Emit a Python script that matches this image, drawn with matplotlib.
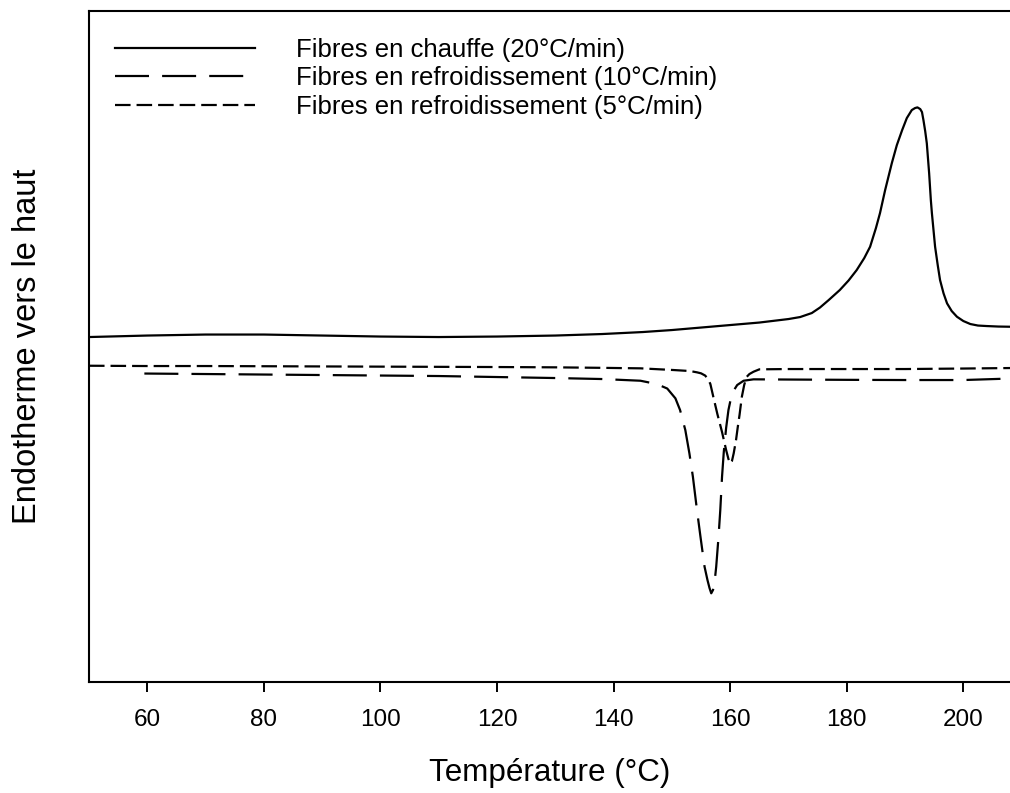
import matplotlib
matplotlib.use("Agg")
import matplotlib.pyplot as plt

plt.rcParams['font.family'] = ['Liberation Sans', 'DejaVu Sans']

# DSC thermograms of the fibres (heat flow in arbitrary units, endotherm up)
temp_heat_20 = [50, 60, 70, 80, 90, 100, 110, 120, 130, 138, 145, 150, 155, 160,
                165, 170, 172, 174, 175.4, 176.9, 178.8, 180.3, 181.7, 183, 184.0,
                185, 185.7, 186.58, 187.73, 188.59, 189.5, 190.3, 191.15, 191.7,
                192.12, 192.6, 192.9, 193.15, 193.45, 193.73, 194.13, 194.42, 194.6,
                195.15, 195.6, 196.0, 196.6, 197.2, 198.0, 198.9, 200, 201.2, 202.5,
                204.0, 206, 208]
flow_heat_20 = [34.50, 34.65, 34.75, 34.75, 34.65, 34.55, 34.50, 34.55, 34.65, 34.80,
                35.00, 35.20, 35.45, 35.70, 35.95, 36.30, 36.50, 36.90, 37.45, 38.20,
                39.20, 40.15, 41.20, 42.40, 43.53, 45.40, 46.90, 49.20, 51.90, 53.70,
                55.20, 56.40, 57.20, 57.40, 57.47, 57.30, 57.00, 56.20, 55.10, 53.87,
                50.87, 48.20, 46.90, 43.53, 41.70, 40.20, 38.87, 37.87, 37.10, 36.53,
                36.10, 35.80, 35.65, 35.60, 35.55, 35.53]

temp_cool_10 = [59.5, 70, 80, 90, 100, 110, 120, 130, 138, 144.6, 147.4, 149.2, 150.6,
                151.4, 152.3, 153.0, 153.6, 154.3, 154.9, 155.6, 156.1, 156.45, 156.75,
                157.05, 157.3, 157.6, 158.0, 158.3, 158.6, 158.9, 159.3, 159.7, 160.3,
                161.2, 162.3, 164.0, 170, 180, 190, 200, 208]
flow_cool_10 = [30.85, 30.80, 30.75, 30.70, 30.65, 30.60, 30.50, 30.40, 30.30, 30.13,
                29.80, 29.35, 28.37, 27.20, 25.20, 22.87, 20.53, 17.20, 14.53, 11.53,
                10.20, 9.40, 8.87, 9.20, 9.87, 11.53, 14.53, 17.20, 20.53, 23.00,
                25.40, 27.20, 28.87, 29.70, 30.13, 30.27, 30.25, 30.22, 30.20, 30.20,
                30.35]

temp_cool_5 = [50, 60, 70, 80, 90, 100, 110, 120, 130, 138, 144.6, 150.3, 153.1, 154.3,
               155.0, 155.7, 156.2, 156.6, 157.1, 157.8, 158.6, 159.3, 159.7, 160.0,
               160.3, 160.6, 161.0, 161.3, 161.6, 162.0, 162.4, 162.8, 163.3, 164.0,
               165.0, 170, 180, 190, 200, 208]
flow_cool_5 = [31.63, 31.60, 31.60, 31.58, 31.56, 31.54, 31.52, 31.50, 31.47, 31.42,
               31.37, 31.20, 31.10, 30.97, 30.87, 30.65, 30.30, 29.80, 28.53, 26.80,
               25.00, 23.20, 22.30, 21.87, 22.10, 22.87, 24.20, 25.50, 26.70, 28.53,
               29.70, 30.50, 30.80, 31.03, 31.27, 31.30, 31.30, 31.30, 31.35, 31.40]

labels = ["Fibres en chauffe (20°C/min)",
          "Fibres en refroidissement (10°C/min)",
          "Fibres en refroidissement (5°C/min)"]
xticks = [60, 80, 100, 120, 140, 160, 180, 200]

fig = plt.figure(figsize=(10.10, 7.93), dpi=100)
ax = fig.add_axes([0.0881, 0.140, 0.9119, 0.846])

lw = 1.6
ax.plot(temp_heat_20, flow_heat_20, color='black', lw=lw, label=labels[0],
        solid_joinstyle='round')
ax.plot(temp_cool_10, flow_cool_10, color='black', lw=lw, dashes=(15.3, 5.9),
        label=labels[1])
ax.plot(temp_cool_5, flow_cool_5, color='black', lw=lw, dashes=(7.0, 2.7),
        label=labels[2])

ax.set_xlim(50, 208)
ax.set_ylim(0, 67.1)
ax.set_xticks(xticks)
ax.set_yticks([])
ax.tick_params(axis='x', direction='out', length=7.2, width=1.4, pad=12,
               labelsize=17.5)
for side in ('left', 'top', 'bottom'):
    ax.spines[side].set_linewidth(1.5)
ax.spines['right'].set_visible(False)

ax.set_xlabel("Température (°C)", fontsize=22.6, labelpad=20)
ax.set_ylabel("Endotherme vers le haut", fontsize=23.5, labelpad=33)

leg = ax.legend(loc='upper left', frameon=False,
                fontsize=18.5, handlelength=5.45, handletextpad=1.6,
                labelspacing=0.17, borderaxespad=0.0, borderpad=0.0)
leg.set_bbox_to_anchor((0.028, 0.96), transform=ax.transAxes)

fig.savefig("out.png", dpi=100)
